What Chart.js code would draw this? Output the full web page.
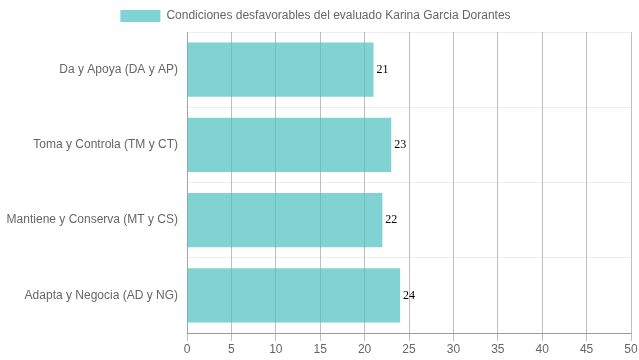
<!DOCTYPE html>
<html>
<head>
<meta charset="utf-8">
<script src="https://cdn.jsdelivr.net/npm/chart.js@4.4.0/dist/chart.umd.min.js"></script>
<style>
  html, body { margin: 0; padding: 0; background: #fff; }
  #wrap { width: 639px; height: 360px; }
</style>
</head>
<body>
<div id="wrap"><canvas id="chart"></canvas></div>
<script>
const categories = [
  "Da y Apoya (DA y AP)",
  "Toma y Controla (TM y CT)",
  "Mantiene y Conserva (MT y CS)",
  "Adapta y Negocia (AD y NG)"
];
const values = [21, 23, 22, 24];
const seriesLabel = "Condiciones desfavorables del evaluado Karina Garcia Dorantes";

// draws the value at the end of every bar
const barValues = {
  id: "barValues",
  afterDatasetsDraw(chart) {
    const ctx = chart.ctx;
    ctx.save();
    ctx.font = "12px 'Liberation Serif', 'DejaVu Serif', serif";
    ctx.fillStyle = "#000";
    ctx.textAlign = "left";
    ctx.textBaseline = "middle";
    chart.getDatasetMeta(0).data.forEach((bar, i) => {
      ctx.fillText(chart.data.datasets[0].data[i], bar.x + 3, bar.y);
    });
    ctx.restore();
  }
};

Chart.defaults.font.family = "'Liberation Sans', Arial, sans-serif";
Chart.defaults.font.size = 12;
Chart.defaults.color = "#666";

new Chart(document.getElementById("chart").getContext("2d"), {
  type: "bar",
  data: {
    labels: categories,
    datasets: [
      {
        label: seriesLabel,
        data: values,
        backgroundColor: "rgba(75, 192, 192, 0.7)",
        borderWidth: 0
      }
    ]
  },
  options: {
    indexAxis: "y",
    responsive: true,
    maintainAspectRatio: false,
    animation: false,
    layout: { padding: { left: 0, right: 8 } },
    plugins: {
      legend: {
        display: true,
        position: "top",
        labels: { boxWidth: 40, boxHeight: 12 }
      },
      tooltip: { enabled: false }
    },
    scales: {
      x: {
        min: 0,
        max: 50,
        ticks: { stepSize: 5, padding: 1 },
        grid: { color: "rgba(0, 0, 0, 0.25)" },
        border: { color: "rgba(0, 0, 0, 0.35)" },
        afterFit: (scale) => { scale.height = 27; }
      },
      y: {
        ticks: { padding: 9 },
        grid: { color: "rgba(0, 0, 0, 0.07)", drawTicks: false },
        border: { color: "rgba(0, 0, 0, 0.15)" },
        afterFit: (scale) => { scale.width = 187; }
      }
    }
  },
  plugins: [barValues]
});
</script>
</body>
</html>
